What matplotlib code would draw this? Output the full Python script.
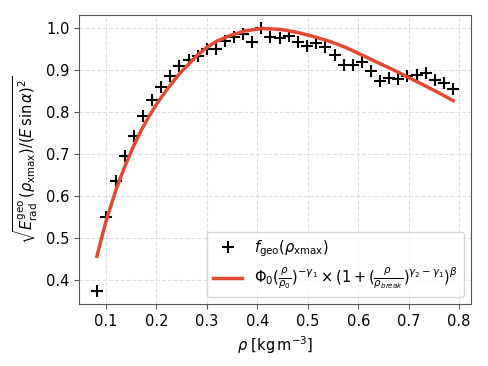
import numpy as np
import matplotlib
matplotlib.use('Agg')
from matplotlib import pyplot as plt

plt.rcParams['font.size'] = 10.5

# data =========================================================================
rho_data = [0.082, 0.101, 0.119, 0.137, 0.155, 0.173, 0.191, 0.209, 0.227,
            0.245, 0.264, 0.282, 0.300, 0.318, 0.336, 0.354, 0.372, 0.390,
            0.408, 0.426, 0.444, 0.462, 0.481, 0.499, 0.517, 0.535, 0.553,
            0.571, 0.589, 0.607, 0.625, 0.643, 0.661, 0.679, 0.697, 0.716,
            0.734, 0.752, 0.770, 0.788]
f_geo = [0.374, 0.550, 0.636, 0.696, 0.743, 0.792, 0.830, 0.860, 0.886,
         0.910, 0.924, 0.935, 0.950, 0.950, 0.969, 0.980, 0.988, 0.967,
         1.000, 0.980, 0.978, 0.983, 0.967, 0.958, 0.966, 0.955, 0.936,
         0.914, 0.914, 0.919, 0.898, 0.874, 0.882, 0.879, 0.886, 0.890,
         0.894, 0.878, 0.870, 0.855]

rho_fit = [0.082, 0.100, 0.120, 0.136, 0.153, 0.169, 0.185, 0.202, 0.220,
           0.244, 0.260, 0.280, 0.300, 0.320, 0.345, 0.375, 0.408, 0.445,
           0.478, 0.511, 0.544, 0.575, 0.605, 0.640, 0.672, 0.705, 0.738,
           0.770, 0.788]
f_fit = [0.457, 0.540, 0.616, 0.667, 0.715, 0.755, 0.790, 0.823, 0.853,
         0.890, 0.910, 0.935, 0.955, 0.970, 0.983, 0.994, 1.000, 0.998,
         0.991, 0.981, 0.969, 0.955, 0.938, 0.918, 0.900, 0.880, 0.860,
         0.840, 0.828]

label_data = r'$f_{\rm geo}(\rho_{\rm xmax})$'
label_fit = (r'$\Phi_0(\frac{\rho}{\rho_0})^{-\gamma_1} \times '
             r'(1 + (\frac{\rho}{\rho_{break}})^{\gamma_2 - \gamma_1})^{\beta}$')

# =============================================================================
fig = plt.figure(figsize=(4.88, 3.66), dpi=100)
ax = fig.add_axes([0.162, 0.169, 0.803, 0.789])

ax.plot(rho_data, f_geo, ls='', marker='+', color='k', ms=9, mew=1.5,
        label=label_data)
ax.plot(rho_fit, f_fit, color='#e24a33', lw=2.5, label=label_fit)

ax.grid(True, ls='--', color='#dddddd', lw=0.8)
ax.set_axisbelow(True)
for s in ax.spines.values():
    s.set_color('#555555')
ax.tick_params(color='#555555')

ax.set_xlabel(r'$\rho$ [$\mathrm{kg\,m^{-3}}$]')
ax.set_ylabel(r'$\sqrt{E^{\rm geo}_{\rm rad}\,(\rho_{\rm xmax})/(E\,\sin\alpha)^2}$')
ax.legend(loc='lower right')

fig.savefig('out.png', dpi=100)
